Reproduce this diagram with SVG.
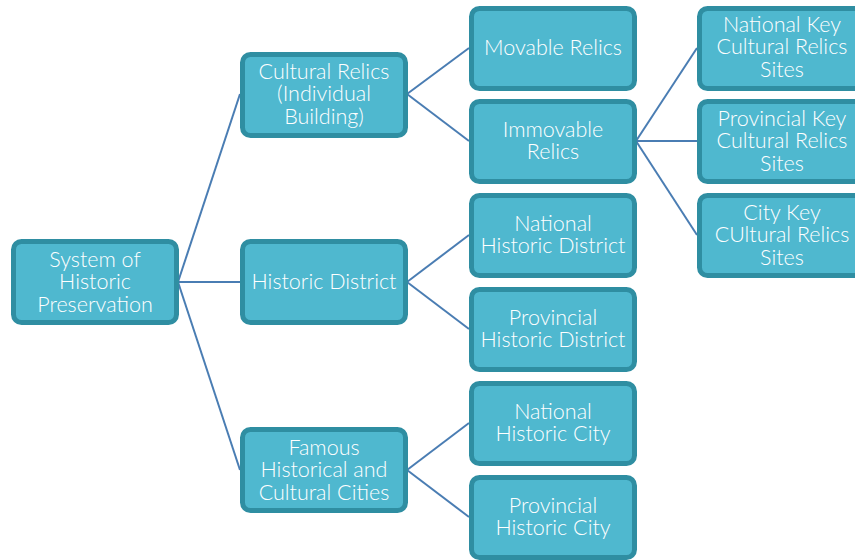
<svg xmlns="http://www.w3.org/2000/svg" width="855" height="560" viewBox="0 0 855 560">
<style>
.box{fill:#4fb8cf;stroke:#2f8ea2;stroke-width:5}
.t{font-family:Lato,"Open Sans",sans-serif;font-size:21.5px;font-weight:300;fill:#ffffff;text-anchor:middle}
.c{stroke:#4a7db3;stroke-width:2;fill:none}
</style>
<rect width="855" height="560" fill="#ffffff"/>
<g id="connectors">
<line class="c" x1="178" y1="282" x2="240" y2="94"/>
<line class="c" x1="178" y1="282" x2="240" y2="282"/>
<line class="c" x1="178" y1="282" x2="240" y2="470"/>
<line class="c" x1="407" y1="94" x2="469" y2="48"/>
<line class="c" x1="407" y1="94" x2="469" y2="141"/>
<line class="c" x1="636" y1="141" x2="697" y2="48"/>
<line class="c" x1="636" y1="141" x2="697" y2="141"/>
<line class="c" x1="636" y1="141" x2="697" y2="235"/>
<line class="c" x1="407" y1="282" x2="469" y2="235"/>
<line class="c" x1="407" y1="282" x2="469" y2="329"/>
<line class="c" x1="407" y1="470" x2="469" y2="423"/>
<line class="c" x1="407" y1="470" x2="469" y2="517"/>
</g>
<g id="root">
<rect class="box" x="13.5" y="241.5" width="163" height="81" rx="8"/>
<text class="t" x="95" y="267">System of</text>
<text class="t" x="95" y="289">Historic</text>
<text class="t" x="95" y="312">Preservation</text>
</g>
<g id="cultural-relics">
<rect class="box" x="242.5" y="54.5" width="163" height="81" rx="8"/>
<text class="t" x="324" y="79">Cultural Relics</text>
<text class="t" x="324" y="101">(Individual</text>
<text class="t" x="324" y="124">Building)</text>
</g>
<g id="historic-district">
<rect class="box" x="242.5" y="241.5" width="163" height="81" rx="8"/>
<text class="t" x="324" y="289">Historic District</text>
</g>
<g id="famous-cities">
<rect class="box" x="242.5" y="429.5" width="163" height="81" rx="8"/>
<text class="t" x="324" y="455">Famous</text>
<text class="t" x="324" y="477">Historical and</text>
<text class="t" x="324" y="500">Cultural Cities</text>
</g>
<g id="movable-relics">
<rect class="box" x="471.5" y="8.5" width="163" height="80" rx="8"/>
<text class="t" x="553" y="55">Movable Relics</text>
</g>
<g id="immovable-relics">
<rect class="box" x="471.5" y="101.5" width="163" height="80" rx="8"/>
<text class="t" x="553" y="137">Immovable</text>
<text class="t" x="553" y="159">Relics</text>
</g>
<g id="national-historic-district">
<rect class="box" x="471.5" y="195.5" width="163" height="80" rx="8"/>
<text class="t" x="553" y="231">National</text>
<text class="t" x="553" y="253">Historic District</text>
</g>
<g id="provincial-historic-district">
<rect class="box" x="471.5" y="289.5" width="163" height="80" rx="8"/>
<text class="t" x="553" y="325">Provincial</text>
<text class="t" x="553" y="347">Historic District</text>
</g>
<g id="national-historic-city">
<rect class="box" x="471.5" y="383.5" width="163" height="80" rx="8"/>
<text class="t" x="553" y="419">National</text>
<text class="t" x="553" y="441">Historic City</text>
</g>
<g id="provincial-historic-city">
<rect class="box" x="471.5" y="477.5" width="163" height="80" rx="8"/>
<text class="t" x="553" y="513">Provincial</text>
<text class="t" x="553" y="535">Historic City</text>
</g>
<g id="national-key-sites">
<rect class="box" x="699.5" y="8.5" width="163" height="80" rx="8"/>
<text class="t" x="782" y="32">National Key</text>
<text class="t" x="782" y="54">Cultural Relics</text>
<text class="t" x="782" y="77">Sites</text>
</g>
<g id="provincial-key-sites">
<rect class="box" x="699.5" y="101.5" width="163" height="80" rx="8"/>
<text class="t" x="782" y="126">Provincial Key</text>
<text class="t" x="782" y="148">Cultural Relics</text>
<text class="t" x="782" y="171">Sites</text>
</g>
<g id="city-key-sites">
<rect class="box" x="699.5" y="195.5" width="163" height="80" rx="8"/>
<text class="t" x="782" y="220">City Key</text>
<text class="t" x="782" y="242">CUltural Relics</text>
<text class="t" x="782" y="265">Sites</text>
</g>
</svg>
